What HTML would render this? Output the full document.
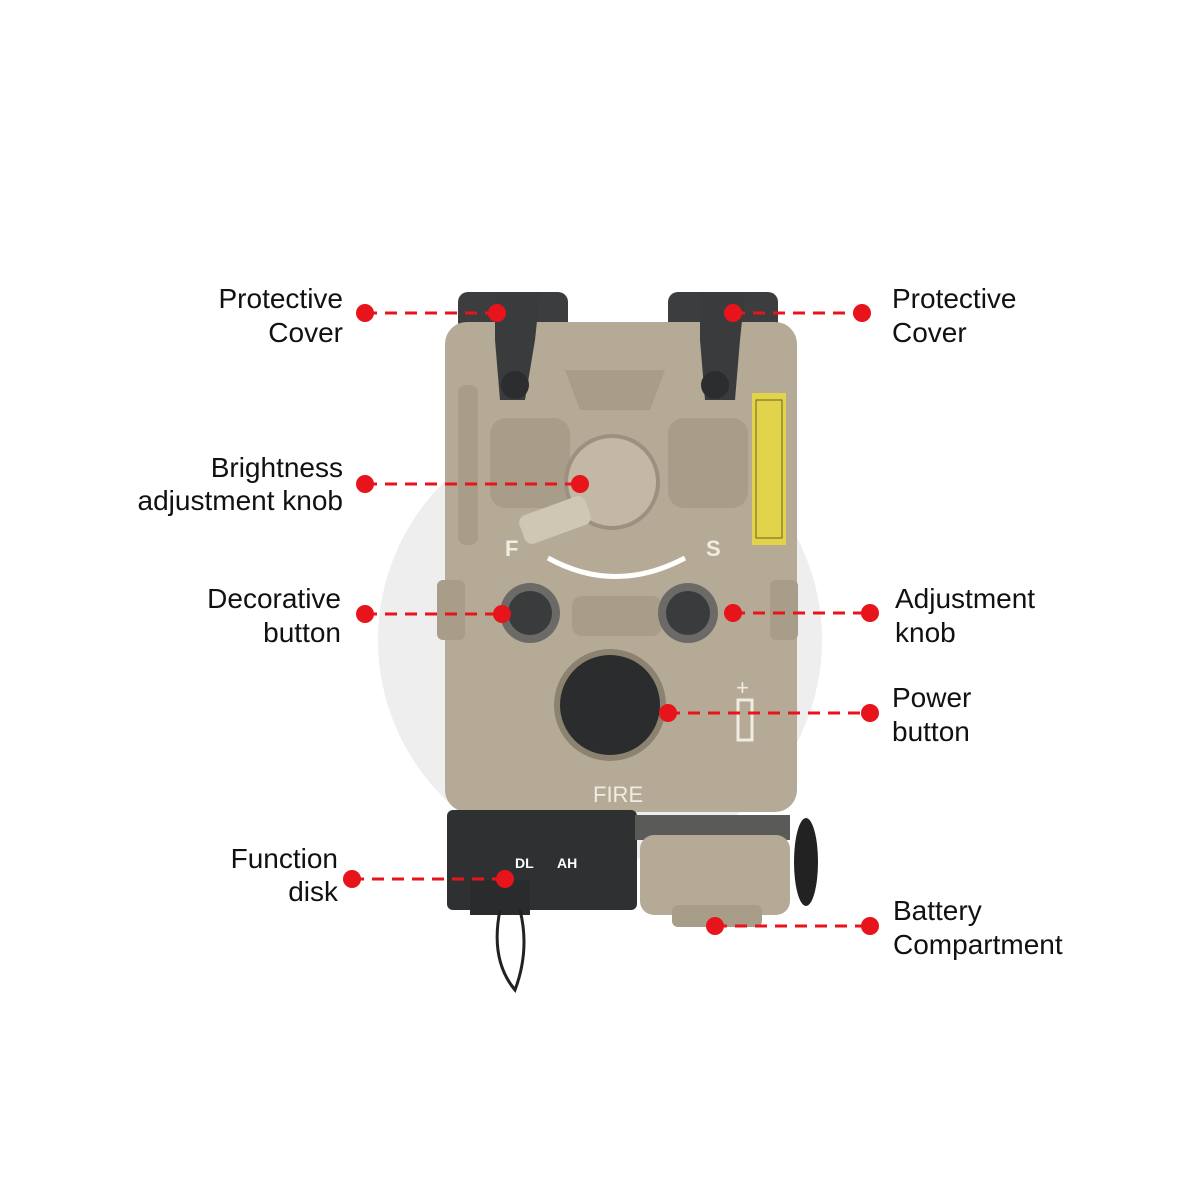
<!DOCTYPE html>
<html><head><meta charset="utf-8"><style>
html,body{margin:0;padding:0;background:#fff;}
svg{display:block}
text{font-family:"Liberation Sans",sans-serif;}
</style></head><body>
<svg width="1200" height="1200" viewBox="0 0 1200 1200" xmlns="http://www.w3.org/2000/svg">
<rect width="1200" height="1200" fill="#fff"/>
<circle cx="600" cy="640" r="222" fill="#eeeeee"/>
<rect x="458" y="292" width="110" height="40" rx="10" fill="#3c3d3f"/>
<rect x="668" y="292" width="110" height="40" rx="10" fill="#3c3d3f"/>
<rect x="445" y="322" width="352" height="490" rx="22" fill="#b5aa96"/>
<rect x="458" y="385" width="20" height="160" rx="8" fill="#a89d89"/>
<rect x="490" y="418" width="80" height="90" rx="16" fill="#a89d89"/>
<rect x="668" y="418" width="80" height="90" rx="16" fill="#a89d89"/>
<path d="M565 370 L665 370 L650 410 L580 410 Z" fill="#a89d89"/>
<path d="M495 292 L540 292 L535 340 L525 400 L500 400 L495 340 Z" fill="#3a3b3d"/>
<path d="M700 292 L745 292 L740 340 L735 400 L705 400 L700 340 Z" fill="#3a3b3d"/>
<circle cx="515" cy="385" r="14" fill="#2c2d2f"/>
<circle cx="715" cy="385" r="14" fill="#2c2d2f"/>
<rect x="752" y="393" width="34" height="152" fill="#e2d44a"/>
<rect x="756" y="400" width="26" height="138" fill="none" stroke="#6a6420" stroke-width="1"/>
<circle cx="612" cy="482" r="46" fill="#c2b8a5" stroke="#9c917e" stroke-width="4"/>
<rect x="520" y="505" width="70" height="30" rx="8" fill="#cfc6b4" transform="rotate(-20 555 520)"/>
<text x="505" y="556" font-size="22" font-weight="bold" fill="#f0ece4">F</text>
<text x="706" y="556" font-size="22" font-weight="bold" fill="#f0ece4">S</text>
<path d="M548 558 Q615 595 685 558" fill="none" stroke="#fff" stroke-width="5"/>
<rect x="437" y="580" width="28" height="60" rx="6" fill="#a89d89"/>
<rect x="770" y="580" width="28" height="60" rx="6" fill="#a89d89"/>
<rect x="572" y="596" width="90" height="40" rx="10" fill="#a89d89"/>
<circle cx="530" cy="613" r="30" fill="#6b6a67"/>
<circle cx="530" cy="613" r="22" fill="#3a3b3d"/>
<circle cx="688" cy="613" r="30" fill="#6b6a67"/>
<circle cx="688" cy="613" r="22" fill="#3a3b3d"/>
<circle cx="610" cy="705" r="56" fill="#8c8270"/>
<circle cx="610" cy="705" r="50" fill="#2b2c2e"/>
<text x="593" y="802" font-size="22" fill="#f0ece4">FIRE</text>
<text x="736" y="695" font-size="22" fill="#f0ece4">+</text>
<rect x="738" y="700" width="14" height="40" fill="none" stroke="#f0ece4" stroke-width="3"/>
<rect x="447" y="810" width="190" height="100" rx="6" fill="#2f3032"/>
<rect x="470" y="880" width="60" height="35" fill="#2a2b2d"/>
<text x="515" y="868" font-size="14" font-weight="bold" fill="#fff">DL</text>
<text x="557" y="868" font-size="14" font-weight="bold" fill="#fff">AH</text>
<path d="M500 910 Q490 960 515 990 Q530 950 520 910" fill="none" stroke="#222" stroke-width="3"/>
<ellipse cx="806" cy="862" rx="12" ry="44" fill="#222"/>
<rect x="635" y="815" width="155" height="25" fill="#5a5a58"/>
<rect x="640" y="835" width="150" height="80" rx="14" fill="#b5aa96"/>
<rect x="672" y="905" width="90" height="22" rx="6" fill="#a89d89"/>
<g fill="#e8141c">
<circle cx="365" cy="313" r="9"/><circle cx="497" cy="313" r="9"/>
<circle cx="862" cy="313" r="9"/><circle cx="733" cy="313" r="9"/>
<circle cx="365" cy="484" r="9"/><circle cx="580" cy="484" r="9"/>
<circle cx="365" cy="614" r="9"/><circle cx="502" cy="614" r="9"/>
<circle cx="870" cy="613" r="9"/><circle cx="733" cy="613" r="9"/>
<circle cx="870" cy="713" r="9"/><circle cx="668" cy="713" r="9"/>
<circle cx="352" cy="879" r="9"/><circle cx="505" cy="879" r="9"/>
<circle cx="870" cy="926" r="9"/><circle cx="715" cy="926" r="9"/>
</g>
<g stroke="#e8141c" stroke-width="3" stroke-dasharray="12,8">
<line x1="365" y1="313" x2="497" y2="313"/>
<line x1="733" y1="313" x2="862" y2="313"/>
<line x1="365" y1="484" x2="580" y2="484"/>
<line x1="365" y1="614" x2="502" y2="614"/>
<line x1="733" y1="613" x2="870" y2="613"/>
<line x1="668" y1="713" x2="870" y2="713"/>
<line x1="352" y1="879" x2="505" y2="879"/>
<line x1="715" y1="926" x2="870" y2="926"/>
</g>
<g font-size="28" fill="#111">
<text x="343" y="308" text-anchor="end">Protective</text>
<text x="343" y="342" text-anchor="end">Cover</text>
<text x="892" y="308">Protective</text>
<text x="892" y="342">Cover</text>
<text x="343" y="477" text-anchor="end">Brightness</text>
<text x="343" y="510" text-anchor="end">adjustment knob</text>
<text x="341" y="608" text-anchor="end">Decorative</text>
<text x="341" y="642" text-anchor="end">button</text>
<text x="895" y="608">Adjustment</text>
<text x="895" y="642">knob</text>
<text x="892" y="707">Power</text>
<text x="892" y="741">button</text>
<text x="338" y="868" text-anchor="end">Function</text>
<text x="338" y="901" text-anchor="end">disk</text>
<text x="893" y="920">Battery</text>
<text x="893" y="954">Compartment</text>
</g>
</svg>
</body></html>
